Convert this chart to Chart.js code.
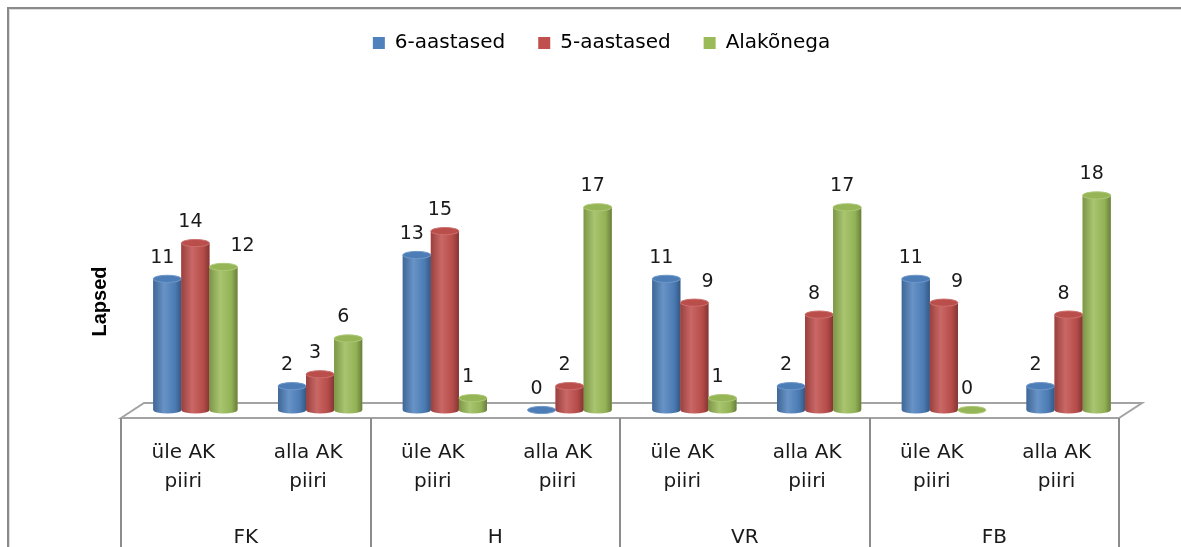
<!DOCTYPE html>
<html>
<head>
<meta charset="utf-8">
<script src="https://cdn.jsdelivr.net/npm/chart.js@4/dist/chart.umd.min.js"></script>
<style>
  html, body { margin: 0; padding: 0; background: #fff; overflow: hidden; }
  canvas { display: block; }
</style>
</head>
<body>
<canvas id="chart" width="1181" height="547"></canvas>
<script>
// Children per group, split by the AK threshold (above / below)
const groups = ['FK', 'H', 'VR', 'FB'];
const categories = [
  'üle AK piiri', 'alla AK piiri',
  'üle AK piiri', 'alla AK piiri',
  'üle AK piiri', 'alla AK piiri',
  'üle AK piiri', 'alla AK piiri'
];
const seriesNames = ['6-aastased', '5-aastased', 'Alakõnega'];
const sixYearOlds  = [11, 2, 13, 0, 11, 2, 11, 2];
const fiveYearOlds = [14, 3, 15, 2, 9, 8, 9, 8];
const speechDelay  = [12, 6, 1, 17, 1, 17, 0, 18];

const seriesValues = [sixYearOlds, fiveYearOlds, speechDelay];
const seriesColors = ['#4F81BD', '#C0504D', '#9BBB59'];

const TEXT = '#1a1a1a';
const FONT = 'DejaVu Sans';

// mix a hex colour toward black (f < 1) or white (f > 1)
function shade(hex, f) {
  const n = parseInt(hex.slice(1), 16);
  let r = n >> 16, g = (n >> 8) & 255, b = n & 255;
  if (f < 1) { r *= f; g *= f; b *= f; }
  else { const t = f - 1; r += (255 - r) * t; g += (255 - g) * t; b += (255 - b) * t; }
  return 'rgb(' + Math.round(r) + ',' + Math.round(g) + ',' + Math.round(b) + ')';
}

function splitLabel(s) {
  const k = s.lastIndexOf(' ');
  return k < 0 ? s : [s.slice(0, k), s.slice(k + 1)];
}

// outer frame of the chart object
const framePlugin = {
  id: 'frame',
  beforeDraw(chart) {
    const ctx = chart.ctx;
    ctx.save();
    ctx.fillStyle = '#fff';
    ctx.fillRect(0, 0, chart.width, chart.height);
    ctx.strokeStyle = '#8a8a8a';
    ctx.lineWidth = 2;
    ctx.beginPath();
    ctx.moveTo(8, chart.height + 2);
    ctx.lineTo(8, 8);
    ctx.lineTo(chart.width + 2, 8);
    ctx.stroke();
    ctx.strokeStyle = '#dedede';
    ctx.lineWidth = 1;
    ctx.beginPath();
    ctx.moveTo(9.5, chart.height + 2);
    ctx.lineTo(9.5, 9.5);
    ctx.lineTo(chart.width + 2, 9.5);
    ctx.stroke();
    ctx.restore();
  }
};

// floor slab under the bars and the group separators of the category axis
const DEPTH_X_FRONT = 12, DEPTH_X_BACK = 11, DEPTH_Y_FRONT = 8, DEPTH_Y_BACK = 7;
const floorPlugin = {
  id: 'floor',
  beforeDatasetsDraw(chart) {
    const { ctx, chartArea } = chart;
    const { left, right, bottom } = chartArea;
    const fy = bottom + DEPTH_Y_FRONT, by = bottom - DEPTH_Y_BACK;
    ctx.save();
    ctx.strokeStyle = '#a3a3a3';
    ctx.lineWidth = 2;
    ctx.beginPath();
    ctx.moveTo(left - DEPTH_X_FRONT, fy);
    ctx.lineTo(left + DEPTH_X_BACK, by);
    ctx.lineTo(right + DEPTH_X_BACK, by);
    ctx.lineTo(right - DEPTH_X_FRONT, fy);
    ctx.closePath();
    ctx.stroke();
    ctx.strokeStyle = '#8c8c8c';
    const step = (right - left) / groups.length;
    ctx.beginPath();
    for (let k = 0; k <= groups.length; k++) {
      const x = Math.round(left - DEPTH_X_FRONT + k * step);
      ctx.moveTo(x, fy);
      ctx.lineTo(x, chart.height + 2);
    }
    ctx.stroke();
    ctx.restore();
  }
};

function drawCylinder(ctx, x, top, base, w, color) {
  const l = x - w / 2, r = x + w / 2, rx = w / 2, ry = 3.6;
  const g = ctx.createLinearGradient(l, 0, r, 0);
  g.addColorStop(0, shade(color, 0.8));
  g.addColorStop(0.38, shade(color, 1.14));
  g.addColorStop(0.78, shade(color, 0.95));
  g.addColorStop(1, shade(color, 0.68));
  ctx.beginPath();
  ctx.moveTo(l, top);
  ctx.lineTo(l, base);
  ctx.ellipse(x, base, rx, ry, 0, Math.PI, 0, true);
  ctx.lineTo(r, top);
  ctx.ellipse(x, top, rx, ry, 0, 0, Math.PI, false);
  ctx.closePath();
  ctx.fillStyle = g;
  ctx.fill();
  ctx.beginPath();
  ctx.ellipse(x, top, rx, ry, 0, 0, Math.PI * 2);
  ctx.fillStyle = shade(color, 0.97);
  ctx.fill();
  ctx.strokeStyle = shade(color, 1.18);
  ctx.lineWidth = 1;
  ctx.stroke();
}

// cylinder bars and value labels
const cylinderPlugin = {
  id: 'cylinders',
  afterDatasetsDraw(chart) {
    const ctx = chart.ctx;
    ctx.save();
    chart.data.datasets.forEach((ds, di) => {
      const meta = chart.getDatasetMeta(di);
      meta.data.forEach(el => {
        const p = el.getProps(['x', 'y', 'base', 'width'], true);
        drawCylinder(ctx, p.x, p.y, p.base, p.width, ds.backgroundColor);
      });
    });
    // value labels, nudged right when they would collide with the neighbour's label
    ctx.font = '19px "' + FONT + '"';
    ctx.fillStyle = TEXT;
    ctx.textAlign = 'center';
    ctx.textBaseline = 'middle';
    const placed = {};
    chart.data.datasets.forEach((ds, di) => {
      const meta = chart.getDatasetMeta(di);
      meta.data.forEach((el, i) => {
        const p = el.getProps(['x', 'y'], true);
        const text = String(ds.data[i]);
        const w = ctx.measureText(text).width;
        let cx = p.x - 5;
        const cy = p.y - 21;
        const prev = placed[i];
        if (prev && cy > prev.cy && cy - prev.cy < 26 && (cx - w / 2) - prev.right < 13) {
          cx = prev.right + 28 + w / 2;
        }
        ctx.fillText(text, cx, cy);
        placed[i] = { cy, right: cx + w / 2 };
      });
    });
    ctx.restore();
  }
};

new Chart(document.getElementById('chart'), {
  type: 'bar',
  data: {
    labels: categories,
    datasets: seriesNames.map((name, k) => ({
      label: name,
      data: seriesValues[k],
      backgroundColor: seriesColors[k],
      borderWidth: 0,
      barPercentage: 1,
      categoryPercentage: 0.675
    }))
  },
  options: {
    responsive: false,
    animation: false,
    events: [],
    layout: { padding: { left: 72, right: 50, top: 0, bottom: 0 } },
    plugins: {
      tooltip: { enabled: false },
      legend: {
        position: 'top',
        align: 'center',
        labels: {
          boxWidth: 12,
          boxHeight: 12,
          padding: 33,
          color: '#000',
          font: { family: FONT, size: 20 }
        }
      }
    },
    scales: {
      x: {
        position: 'bottom',
        weight: 0,
        grid: { display: false, drawTicks: false },
        border: { display: false },
        ticks: {
          autoSkip: false,
          maxRotation: 0,
          minRotation: 0,
          padding: 28,
          labelOffset: -DEPTH_X_FRONT,
          color: TEXT,
          font: { family: FONT, size: 20, lineHeight: 1.45 },
          callback: (v, i) => splitLabel(categories[i])
        },
        afterFit: s => { s.height = 112; }
      },
      x2: {
        type: 'category',
        labels: groups,
        position: 'bottom',
        weight: 1,
        offset: true,
        grid: { display: false, drawTicks: false },
        border: { display: false },
        ticks: {
          autoSkip: false,
          maxRotation: 0,
          minRotation: 0,
          padding: 4,
          labelOffset: -DEPTH_X_FRONT,
          color: TEXT,
          font: { family: FONT, size: 20, lineHeight: 1.2 }
        },
        afterFit: s => { s.height = 25; }
      },
      xTop: {
        type: 'category',
        position: 'top',
        weight: 0,
        grid: { display: false, drawTicks: false },
        border: { display: false },
        ticks: { display: false },
        afterFit: s => { s.height = 130; }
      },
      y: {
        min: 0,
        max: 18.2,
        grid: { display: false, drawTicks: false },
        border: { display: false },
        ticks: { display: false },
        title: {
          display: true,
          text: 'Lapsed',
          color: '#000',
          font: { family: 'Liberation Sans', size: 20, weight: 'bold' },
          padding: { top: 16, bottom: 0 }
        },
        afterFit: s => { s.width = 61; }
      }
    }
  },
  plugins: [framePlugin, floorPlugin, cylinderPlugin]
});
</script>
</body>
</html>
